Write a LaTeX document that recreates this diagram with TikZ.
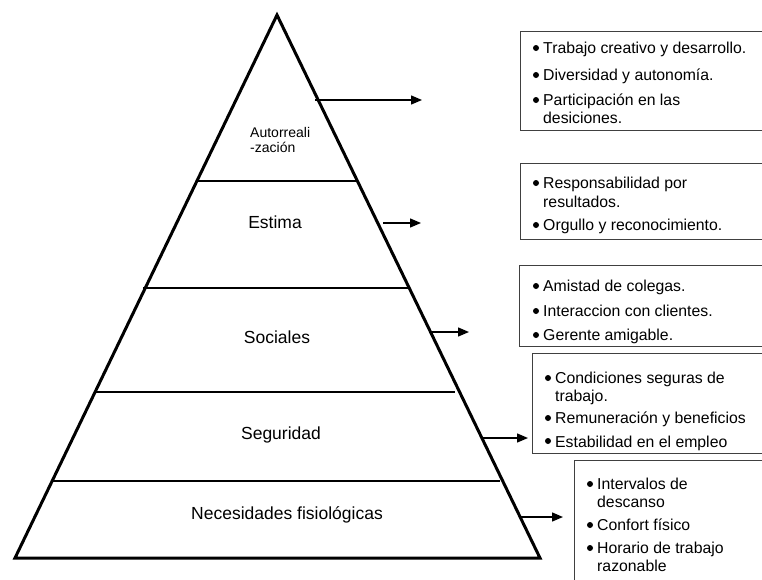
\documentclass[tikz,border=0pt]{standalone}
\usepackage{fontspec}
\setmainfont{Liberation Sans}
\usetikzlibrary{arrows.meta}
\begin{document}
\begin{tikzpicture}[x=1pt,y=-1pt,
  pyr/.style={line width=3pt,line join=miter},
  level/.style={line width=1.4pt},
  arr/.style={line width=1.4pt,-{Triangle[length=11pt,width=9pt]}},
  box/.style={draw=black!75,line width=1pt},
  lab/.style={anchor=base,inner sep=0pt,font=\fontsize{17.5}{20}\selectfont},
  small/.style={anchor=base west,inner sep=0pt,font=\fontsize{14}{15}\selectfont},
  itm/.style={anchor=base west,inner sep=0pt,font=\fontsize{15.8}{18}\selectfont},
  dot/.style={fill=black}]
\useasboundingbox (0,0) rectangle (762,579);
\clip (0,0) rectangle (762,579);
% pyramid
\coordinate (apex) at (277,15);
\coordinate (br) at (540,558);
\coordinate (bl) at (15,558);
\draw[pyr] (apex) -- (br) -- (bl) -- cycle;
\draw[level] (198,181) -- (356,181);
\draw[level] (143,288) -- (408,288);
\draw[level] (96,392) -- (455,392);
\draw[level] (53,481) -- (500,481);
% labels
\node[small] (l1a) at (250,137) {Autorreali};
\node[small] (l1b) at (250,152) {-zación};
\node[lab] (l2) at (275,228) {Estima};
\node[lab] (l3) at (277,343) {Sociales};
\node[lab] (l4) at (281,439) {Seguridad};
\node[lab] (l5) at (287,519) {Necesidades fisiológicas};
% arrows
\coordinate (a1s) at (315,100); \coordinate (a1e) at (422,100);
\coordinate (a2s) at (383,223); \coordinate (a2e) at (421,223);
\coordinate (a3s) at (430,332); \coordinate (a3e) at (469,332);
\coordinate (a4s) at (483,438); \coordinate (a4e) at (528,438);
\coordinate (a5s) at (520,517); \coordinate (a5e) at (563,517);
\draw[arr] (a1s) -- (a1e);
\draw[arr] (a2s) -- (a2e);
\draw[arr] (a3s) -- (a3e);
\draw[arr] (a4s) -- (a4e);
\draw[arr] (a5s) -- (a5e);
% box 1
\draw[box] (520,31) rectangle (790,130);
\fill[dot] (536,48) circle (3);
\node[itm] (b1a) at (543,53) {Trabajo creativo y desarrollo.};
\fill[dot] (536,75) circle (3);
\node[itm] (b1b) at (543,80) {Diversidad y autonomía.};
\fill[dot] (536,100) circle (3);
\node[itm] (b1c) at (543,105) {Participación en las};
\node[itm] (b1d) at (543,123) {desiciones.};
% box 2
\draw[box] (520,163) rectangle (790,239);
\fill[dot] (536,183) circle (3);
\node[itm] (b2a) at (543,188) {Responsabilidad por};
\node[itm] (b2b) at (543,207) {resultados.};
\fill[dot] (536,225) circle (3);
\node[itm] (b2c) at (543,230) {Orgullo y reconocimiento.};
% box 3
\draw[box] (519,265) rectangle (790,346);
\fill[dot] (536,286) circle (3);
\node[itm] (b3a) at (543,291) {Amistad de colegas.};
\fill[dot] (536,311) circle (3);
\node[itm] (b3b) at (543,316) {Interaccion con clientes.};
\fill[dot] (536,335) circle (3);
\node[itm] (b3c) at (543,340) {Gerente amigable.};
% box 4
\draw[box] (532,353) rectangle (790,453);
\fill[dot] (548,378) circle (3);
\node[itm] (b4a) at (555,383) {Condiciones seguras de};
\node[itm] (b4b) at (555,401) {trabajo.};
\fill[dot] (548,418) circle (3);
\node[itm] (b4c) at (555,423) {Remuneración y beneficios};
\begin{scope}
\clip (532,353) rectangle (790,452);
\fill[dot] (548,441) circle (3);
\node[itm] (b4d) at (555,447) {Estabilidad en el empleo};
\end{scope}
% box 5
\draw[box] (574,460) rectangle (790,600);
\fill[dot] (590,484) circle (3);
\node[itm] (b5a) at (597,489) {Intervalos de};
\node[itm] (b5b) at (597,507) {descanso};
\fill[dot] (590,525) circle (3);
\node[itm] (b5c) at (597,530) {Confort físico};
\fill[dot] (590,548) circle (3);
\node[itm] (b5d) at (597,553) {Horario de trabajo};
\node[itm] (b5e) at (597,571) {razonable};
\end{tikzpicture}
\end{document}
